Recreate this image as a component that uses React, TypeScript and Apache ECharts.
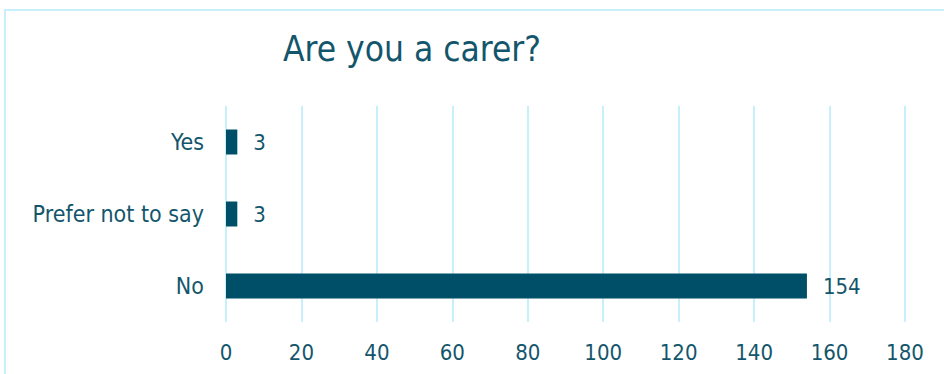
import React, { useEffect, useRef } from "react";
import * as echarts from "echarts";

const categories = ["Yes", "Prefer not to say", "No"];
const values = [3, 3, 154];
const titleText = "Are you a carer?";

const TEXT = "#13566c";
const BAR = "#004f69";
const GRID = "#c8effc";
const FONT = "'DejaVu Sans Condensed', 'DejaVu Sans', sans-serif";

export default function App() {
  const ref = useRef<HTMLDivElement>(null);
  useEffect(() => {
    if (!ref.current) return;
    const chart = echarts.init(ref.current, null, { renderer: "svg" });
    chart.setOption({
      animation: false,
      backgroundColor: "#ffffff",
      title: {
        text: titleText,
        left: 278,
        top: 26,
        textStyle: { color: TEXT, fontSize: 35, fontWeight: "normal", fontFamily: FONT },
      },
      graphic: [
        {
          type: "rect",
          shape: { x: 5, y: 10, width: 960, height: 400 },
          style: { fill: "none", stroke: GRID, lineWidth: 2 },
          silent: true,
        },
      ],
      grid: { left: 226, right: 39, top: 106, bottom: 52, containLabel: false },
      xAxis: {
        type: "value",
        min: 0,
        max: 180,
        interval: 20,
        axisLine: { show: false },
        axisTick: { show: false },
        splitLine: { show: true, lineStyle: { color: GRID, width: 2 } },
        axisLabel: { color: TEXT, fontSize: 22, fontFamily: FONT, margin: 19 },
      },
      yAxis: {
        type: "category",
        data: categories,
        inverse: true,
        axisLine: { show: false },
        axisTick: { show: false },
        splitLine: { show: false },
        axisLabel: { color: TEXT, fontSize: 23, fontFamily: FONT, margin: 22 },
      },
      series: [
        {
          type: "bar",
          data: values,
          barWidth: 25,
          itemStyle: { color: BAR },
          label: {
            show: true,
            position: "right",
            distance: 16,
            color: TEXT,
            fontSize: 22,
            fontFamily: FONT,
          },
        },
      ],
    });
    return () => chart.dispose();
  }, []);
  return (
    <div
      ref={ref}
      style={{ position: "fixed", left: 0, top: 0, width: 944, height: 374 }}
    />
  );
}
